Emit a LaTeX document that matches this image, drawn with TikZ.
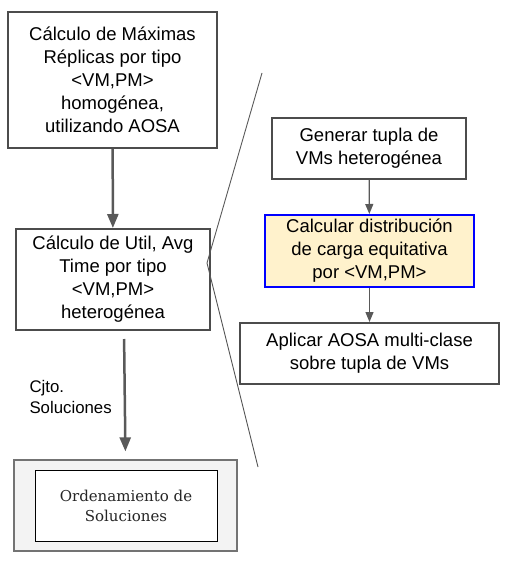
\documentclass[tikz,border=0pt]{standalone}
\usepackage{fontspec}
\setmainfont{Liberation Sans}
\newfontfamily\ordfont{DejaVu Serif}
\usetikzlibrary{arrows.meta}
\definecolor{crema}{HTML}{FFF2CC}
\definecolor{gris}{HTML}{F3F3F3}

\begin{document}
\begin{tikzpicture}[x=1pt,y=-1pt]
    \tikzset{caja/.style={draw=black!70,line width=2pt,align=center,inner sep=0pt,
            font=\fontsize{18.5}{23}\selectfont},
        flecha/.style={draw=black!65,line width=2.5pt,-{Triangle[length=14pt,width=11pt]}},
        flechita/.style={draw=black!65,line width=1.2pt,-{Triangle[length=10pt,width=8pt]}},
        lupa/.style={draw=black!65,line width=0.9pt}}
    \useasboundingbox (0,0) rectangle (510,564);
    % columna izquierda
    \node[caja,minimum width=209pt,minimum height=136pt] (maxrep) at (112.5,80)
        {C\'alculo de M\'aximas\\R\'eplicas por tipo\\<VM,PM>\\homog\'enea,\\utilizando AOSA};
    \node[caja,minimum width=194pt,minimum height=101pt] (util) at (113,279.5)
        {C\'alculo de Util, Avg\\Time por tipo\\<VM,PM>\\heterog\'enea};
    \node[draw=black!55,fill=gris,line width=1.2pt,minimum width=223pt,minimum height=91pt] (ordfondo) at (125.5,505.5) {};
    \node[draw=black,fill=white,line width=0.9pt,minimum width=182pt,minimum height=71pt,align=center,inner sep=0pt,
        font=\ordfont\fontsize{15}{20}\selectfont,text=black!85] (orden) at (126,505.5)
        {Ordenamiento de\\Soluciones};
    \draw[flecha] (maxrep) -- (util);
    \draw[flecha,shorten <=8pt,shorten >=8pt] (util.south) ++(11,0) coordinate (usal) -- (ordfondo.north);
    \node[align=left,anchor=west,font=\fontsize{16.8}{21}\selectfont] (cjto) at (26,397) {Cjto.\\Soluciones};
    % detalle
    \node[caja,minimum width=194pt,minimum height=61pt] (generar) at (369,148.5)
        {Generar tupla de\\VMs heterog\'enea};
    \node[caja,draw=blue,fill=crema,minimum width=209pt,minimum height=72pt] (calcular) at (369.5,251)
        {Calcular distribuci\'on\\de carga equitativa\\por <VM,PM>};
    \node[caja,minimum width=259pt,minimum height=61pt] (aplicar) at (369.5,353.5)
        {Aplicar AOSA multi-clase\\sobre tupla de VMs};
    \draw[flechita] (generar) -- (calcular);
    \draw[flechita] (calcular) -- (aplicar);
    % lineas de zoom
    \coordinate (zarriba) at (262,73);
    \coordinate (zabajo) at (258,467);
    \coordinate (zpunto) at (207,263);
    \draw[lupa] (zarriba) -- (zpunto) -- (zabajo);
\end{tikzpicture}
\end{document}
